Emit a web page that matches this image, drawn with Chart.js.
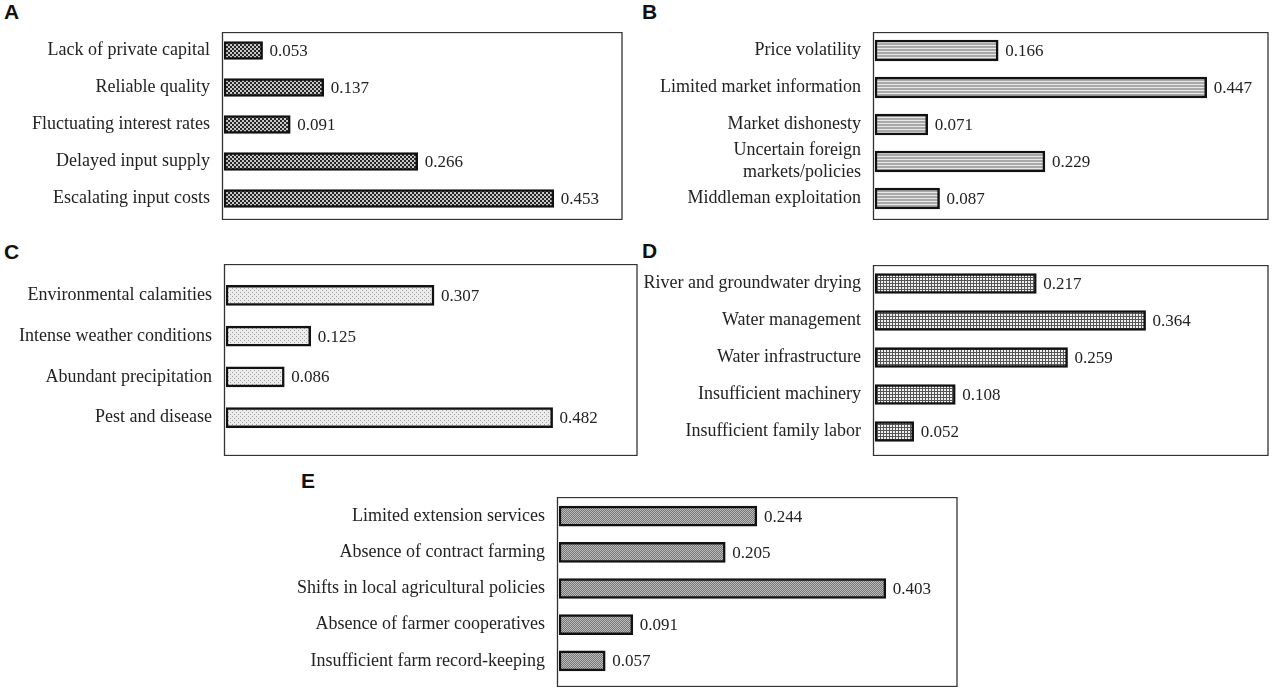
<!DOCTYPE html>
<html>
<head>
<meta charset="utf-8">
<script src="https://cdn.jsdelivr.net/npm/chart.js@4.4.1/dist/chart.umd.min.js"></script>
<style>
  body { margin: 0; background: #fff; width: 1280px; height: 692px; position: relative; overflow: hidden; }
  canvas { position: absolute; }
  .panel-letter { position: absolute; font-family: "Liberation Sans", Arial, sans-serif; font-weight: bold; font-size: 21px; color: #111; }
</style>
</head>
<body>
<div class="panel-letter" style="left:4px;top:0px;">A</div>
<div class="panel-letter" style="left:642px;top:0px;">B</div>
<div class="panel-letter" style="left:4px;top:240px;">C</div>
<div class="panel-letter" style="left:642px;top:239px;">D</div>
<div class="panel-letter" style="left:301px;top:469px;">E</div>

<canvas id="chartA"></canvas>
<canvas id="chartB"></canvas>
<canvas id="chartC"></canvas>
<canvas id="chartD"></canvas>
<canvas id="chartE"></canvas>

<script>
// Data
const labelsA = ['Lack of private capital', 'Reliable quality', 'Fluctuating interest rates', 'Delayed input supply', 'Escalating input costs'];
const valuesA = [0.053, 0.137, 0.091, 0.266, 0.453];

const labelsB = ['Price volatility', 'Limited market information', 'Market dishonesty', ['Uncertain foreign', 'markets/policies'], 'Middleman exploitation'];
const valuesB = [0.166, 0.447, 0.071, 0.229, 0.087];

const labelsC = ['Environmental calamities', 'Intense weather conditions', 'Abundant precipitation', 'Pest and disease'];
const valuesC = [0.307, 0.125, 0.086, 0.482];

const labelsD = ['River and groundwater drying', 'Water management', 'Water infrastructure', 'Insufficient machinery', 'Insufficient family labor'];
const valuesD = [0.217, 0.364, 0.259, 0.108, 0.052];

const labelsE = ['Limited extension services', 'Absence of contract farming', 'Shifts in local agricultural policies', 'Absence of farmer cooperatives', 'Insufficient farm record-keeping'];
const valuesE = [0.244, 0.205, 0.403, 0.091, 0.057];

const serif = '"Liberation Serif", "Times New Roman", serif';

// Build a small tiled pattern from a draw function
function makePattern(size, draw) {
  const c = document.createElement('canvas');
  c.width = size;
  c.height = size;
  const g = c.getContext('2d');
  draw(g);
  return g.createPattern(c, 'repeat');
}

// A: dark checker
const checkerFill = makePattern(4, g => {
  g.fillStyle = '#c8c8c8';
  g.fillRect(0, 0, 4, 4);
  g.fillStyle = '#262626';
  g.fillRect(0, 0, 2, 2);
  g.fillRect(2, 2, 2, 2);
});

// B: horizontal lines
const stripeFill = makePattern(3, g => {
  g.fillStyle = '#a9a9a9';
  g.fillRect(0, 0, 3, 3);
  g.fillStyle = '#e8e8e8';
  g.fillRect(0, 1, 3, 1);
});

// C: light dots
const dotFill = makePattern(4, g => {
  g.fillStyle = '#ececec';
  g.fillRect(0, 0, 4, 4);
  g.fillStyle = '#a0a0a0';
  g.fillRect(0, 0, 1, 1);
  g.fillRect(2, 2, 1, 1);
});

// D: fine grid
const gridFill = makePattern(3, g => {
  g.fillStyle = '#f2f2f2';
  g.fillRect(0, 0, 3, 3);
  g.fillStyle = '#555';
  g.fillRect(0, 0, 3, 1);
  g.fillRect(0, 0, 1, 3);
});

// E: dense gray stipple
const stippleFill = makePattern(2, g => {
  g.fillStyle = '#bcbcbc';
  g.fillRect(0, 0, 2, 2);
  g.fillStyle = '#767676';
  g.fillRect(0, 0, 1, 1);
  g.fillRect(1, 1, 1, 1);
});

// Frame around the plotting area, slightly wider than the bars
const framePlugin = {
  id: 'frame',
  afterDraw(chart) {
    const ctx = chart.ctx;
    const x0 = chart.chartArea.left - 2;
    ctx.save();
    ctx.strokeStyle = '#333';
    ctx.lineWidth = 1.3;
    ctx.strokeRect(x0 + 0.5, 0.5, chart.width - x0 - 1.5, chart.height - 1);
    ctx.restore();
  }
};

// Value printed at the end of every bar
const valueLabelPlugin = {
  id: 'valueLabels',
  afterDatasetsDraw(chart) {
    const ctx = chart.ctx;
    const meta = chart.getDatasetMeta(0);
    const data = chart.data.datasets[0].data;
    ctx.save();
    ctx.font = '17px ' + serif;
    ctx.fillStyle = '#222';
    ctx.textAlign = 'left';
    ctx.textBaseline = 'middle';
    meta.data.forEach((bar, i) => {
      ctx.fillText(data[i].toFixed(3), bar.x + 7, bar.y + 1);
    });
    ctx.restore();
  }
};

function makePanel(id, labels, values, fill, geo) {
  const canvas = document.getElementById(id);
  const w = geo.right - geo.left + 1;
  const h = geo.bottom - geo.top + 1;
  canvas.width = w;
  canvas.height = h;
  canvas.style.left = geo.left + 'px';
  canvas.style.top = geo.top + 'px';
  canvas.style.width = w + 'px';
  canvas.style.height = h + 'px';
  const axisWidth = geo.boxLeft - geo.left + 2;

  return new Chart(canvas, {
    type: 'bar',
    data: {
      labels: labels,
      datasets: [{
        data: values,
        backgroundColor: fill,
        borderColor: '#111',
        borderWidth: 2.5,
        borderSkipped: false,
        barThickness: geo.bar
      }]
    },
    options: {
      indexAxis: 'y',
      responsive: false,
      animation: false,
      layout: {
        padding: { top: geo.padTop, bottom: geo.padBottom, left: 0, right: 0 }
      },
      scales: {
        x: {
          display: false,
          min: 0,
          max: geo.max
        },
        y: {
          grid: { display: false, drawTicks: false },
          border: { display: false },
          afterFit: function(scale) {
            // fixed label column, no extra room for label overhang
            scale.width = axisWidth;
            scale.paddingTop = 0;
            scale.paddingBottom = 0;
          },
          ticks: {
            autoSkip: false,
            color: '#222',
            padding: 14,
            font: { family: serif, size: 18 }
          }
        }
      },
      plugins: {
        legend: { display: false },
        tooltip: { enabled: false }
      }
    },
    plugins: [framePlugin, valueLabelPlugin]
  });
}

makePanel('chartA', labelsA, valuesA, checkerFill,
  { left: 0, top: 32, right: 622, bottom: 219, boxLeft: 222, padTop: 0, padBottom: 3, bar: 18, max: 0.548 });
makePanel('chartB', labelsB, valuesB, stripeFill,
  { left: 640, top: 32, right: 1268, bottom: 219, boxLeft: 873, padTop: 0, padBottom: 3, bar: 21, max: 0.531 });
makePanel('chartC', labelsC, valuesC, dotFill,
  { left: 0, top: 264, right: 637, bottom: 455, boxLeft: 224, padTop: 11, padBottom: 18, bar: 20, max: 0.608 });
makePanel('chartD', labelsD, valuesD, gridFill,
  { left: 640, top: 265, right: 1268, bottom: 455, boxLeft: 873, padTop: 0, padBottom: 6, bar: 20, max: 0.530 });
makePanel('chartE', labelsE, valuesE, stippleFill,
  { left: 280, top: 497, right: 957, bottom: 686, boxLeft: 557, padTop: 1, padBottom: 8, bar: 20, max: 0.492 });
</script>
</body>
</html>
